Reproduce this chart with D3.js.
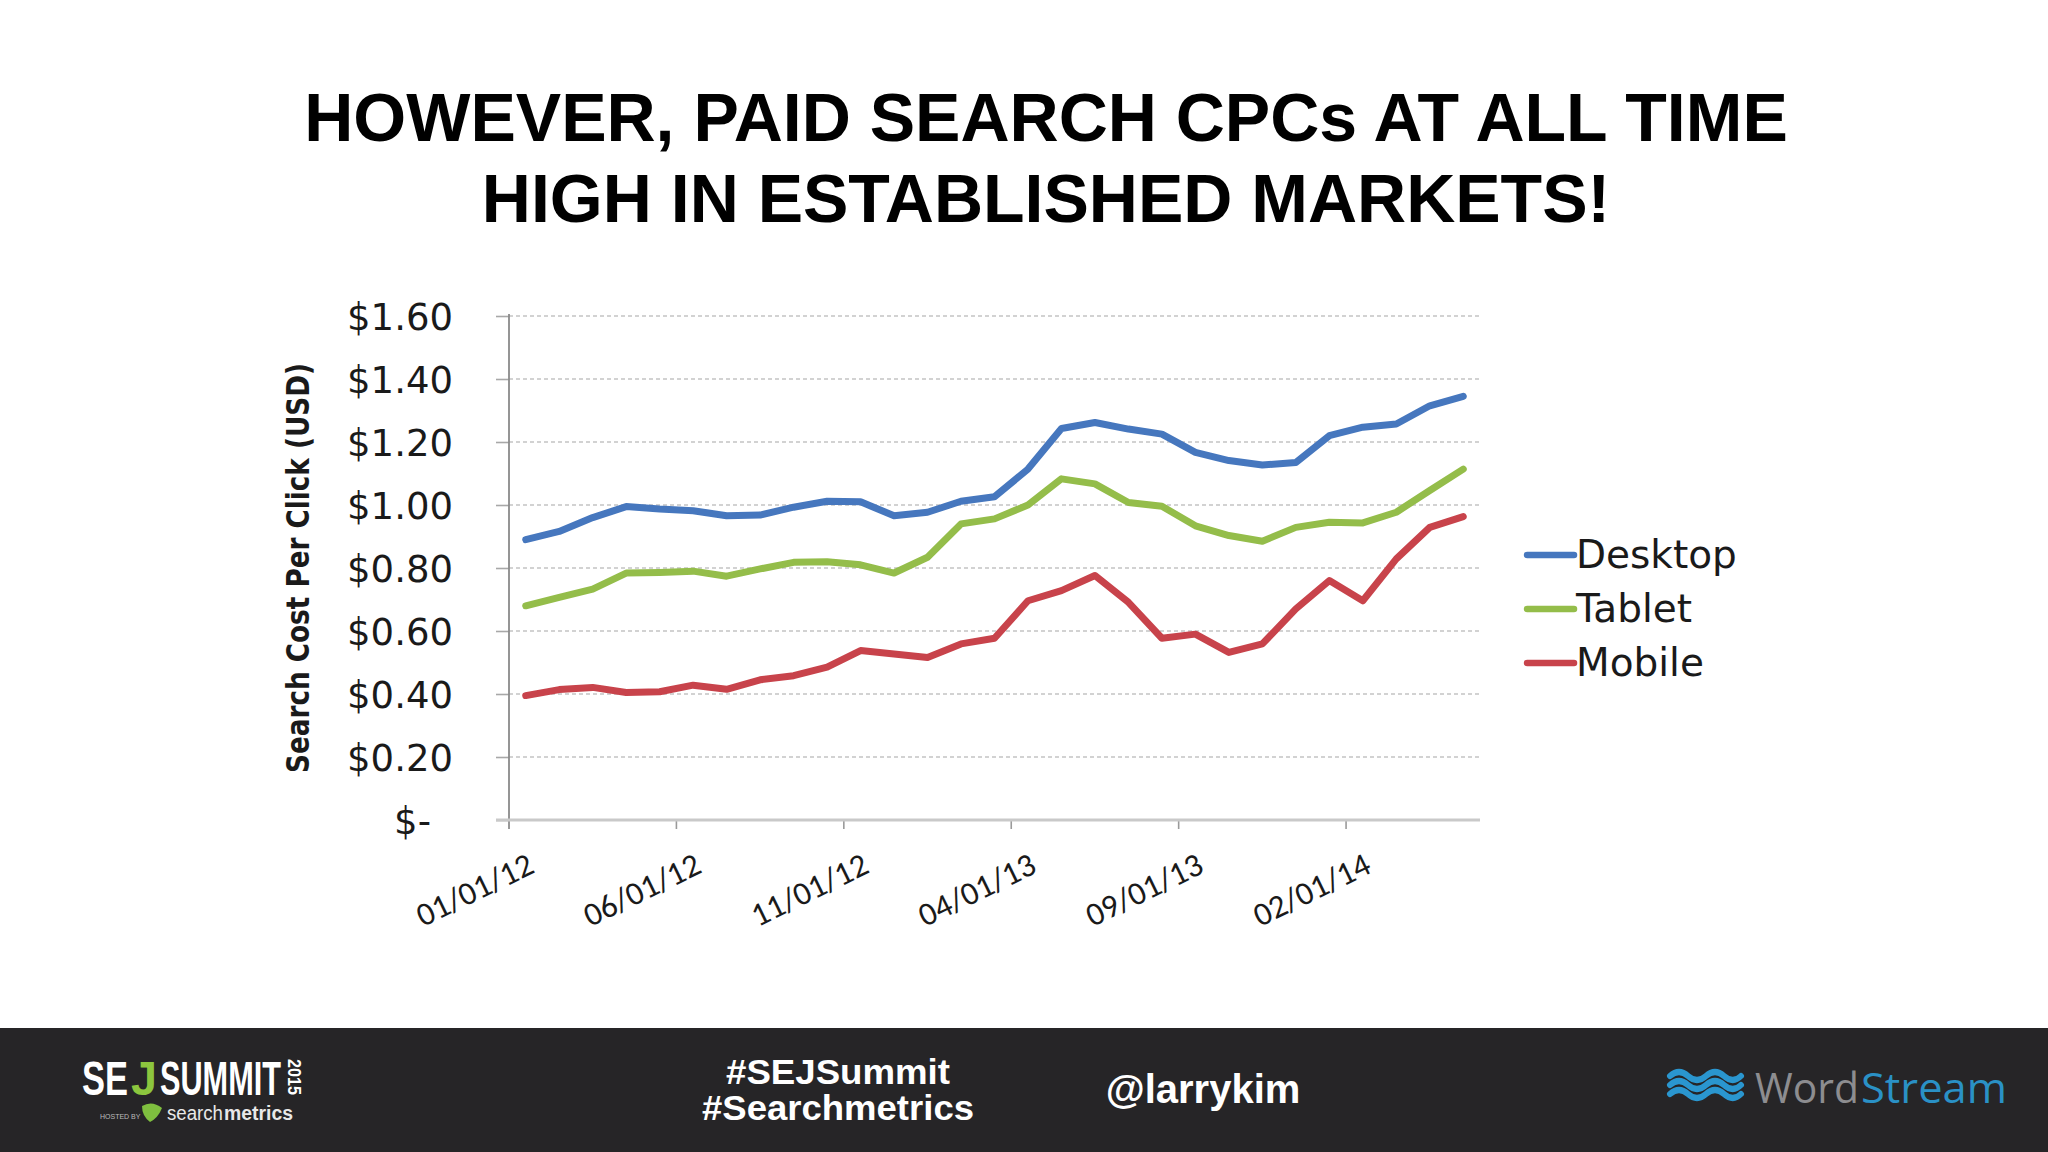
<!DOCTYPE html>
<html>
<head>
<meta charset="utf-8">
<script src="https://cdn.jsdelivr.net/npm/d3@7"></script>
<style>
  html, body { margin: 0; padding: 0; background: #ffffff; }
  svg { display: block; }
</style>
</head>
<body>
<svg id="chart" width="2048" height="1152"></svg>
<script>
// ---------------- DATA ----------------
const titleLines = ["HOWEVER, PAID SEARCH CPCs AT ALL TIME", "HIGH IN ESTABLISHED MARKETS!"];
const yAxisTitle = "Search Cost Per Click (USD)";
const months = [
  "01/01/12","02/01/12","03/01/12","04/01/12","05/01/12","06/01/12","07/01/12","08/01/12","09/01/12","10/01/12","11/01/12","12/01/12",
  "01/01/13","02/01/13","03/01/13","04/01/13","05/01/13","06/01/13","07/01/13","08/01/13","09/01/13","10/01/13","11/01/13","12/01/13",
  "01/01/14","02/01/14","03/01/14","04/01/14","05/01/14"
];
const xTickLabels = ["01/01/12","06/01/12","11/01/12","04/01/13","09/01/13","02/01/14"];
const yTickValues = [0, 0.2, 0.4, 0.6, 0.8, 1.0, 1.2, 1.4, 1.6];
const yTickLabels = ["$-", "$0.20", "$0.40", "$0.60", "$0.80", "$1.00", "$1.20", "$1.40", "$1.60"];
const seriesNames = ["Desktop", "Tablet", "Mobile"];
const desktop = [0.89, 0.916, 0.96, 0.995, 0.987, 0.982, 0.966, 0.968, 0.993, 1.012, 1.01, 0.966, 0.977, 1.012, 1.026,
                 1.114, 1.243, 1.262, 1.241, 1.225, 1.167, 1.141, 1.127, 1.135, 1.22, 1.247, 1.257, 1.315, 1.345];
const tablet  = [0.68, 0.707, 0.733, 0.784, 0.786, 0.79, 0.774, 0.797, 0.818, 0.82, 0.81, 0.784, 0.834, 0.94, 0.956,
                 1.0, 1.083, 1.067, 1.008, 0.996, 0.934, 0.903, 0.885, 0.929, 0.945, 0.943, 0.977, 1.046, 1.114];
const mobile  = [0.395, 0.414, 0.421, 0.405, 0.407, 0.428, 0.415, 0.445, 0.458, 0.485, 0.538, 0.527, 0.516, 0.559, 0.577,
                 0.696, 0.728, 0.776, 0.691, 0.577, 0.59, 0.532, 0.559, 0.67, 0.76, 0.696, 0.829, 0.929, 0.963];
const seriesColors = ["#4677BE", "#94BD4A", "#C8434B"];
const footerTags = ["#SEJSummit", "#Searchmetrics"];
const footerHandle = "@larrykim";

// ---------------- DRAW ----------------
const svg = d3.select("#chart");
svg.append("rect").attr("width", 2048).attr("height", 1152).attr("fill", "#ffffff");

// Title
const title = svg.append("text")
  .attr("text-anchor", "middle")
  .attr("font-family", "'Liberation Sans', Arial, sans-serif")
  .attr("font-weight", "bold")
  .attr("font-size", 68)
  .attr("fill", "#000");
titleLines.forEach((t, i) => {
  title.append("tspan").attr("x", 1046).attr("y", 141 + i * 81).text(t);
});

// Scales
const plot = { left: 509, right: 1480, top: 316, bottom: 820 };
const x = d3.scaleBand().domain(months).range([plot.left, plot.right]).padding(0);
const y = d3.scaleLinear().domain([0, 1.6]).range([plot.bottom, plot.top]);
const cx = d => x(d) + x.bandwidth() / 2;

// Gridlines
const grid = svg.append("g");
grid.selectAll("line.grid")
  .data(yTickValues.filter(v => v > 0))
  .join("line")
  .attr("x1", plot.left).attr("x2", plot.right)
  .attr("y1", d => y(d)).attr("y2", d => y(d))
  .attr("stroke", "#c4c4c4").attr("stroke-width", 1.6)
  .attr("stroke-dasharray", "4,3");

// Y axis
const yAxis = d3.axisLeft(y)
  .tickValues(yTickValues)
  .tickSize(13)
  .tickFormat((d, i) => yTickLabels[i]);
const yg = svg.append("g").attr("transform", `translate(${plot.left},0)`).call(yAxis);
yg.select(".domain").remove();
yg.selectAll(".tick line").attr("stroke", "#a8a8a8").attr("stroke-width", 1.6);
yg.selectAll(".tick text")
  .attr("font-family", "'DejaVu Sans', Verdana, sans-serif")
  .attr("font-size", 37)
  .attr("fill", "#1a1a1a")
  .attr("x", (d) => d === 0 ? -78 : -56)
  .attr("dy", "0.36em");
svg.append("line")
  .attr("x1", plot.left).attr("x2", plot.left)
  .attr("y1", plot.top - 2).attr("y2", plot.bottom + 9)
  .attr("stroke", "#8a8a8a").attr("stroke-width", 1.8);

// X axis
const xAxis = d3.axisBottom(x)
  .tickValues(xTickLabels)
  .tickSize(9)
  .tickFormat(d => d);
const xg = svg.append("g").attr("transform", `translate(0,${plot.bottom})`).call(xAxis);
xg.select(".domain").remove();
xg.selectAll(".tick").attr("transform", d => `translate(${x(d)},0)`);
xg.selectAll(".tick line").attr("stroke", "#9a9a9a").attr("stroke-width", 1.6);
xg.selectAll(".tick text")
  .attr("font-family", "Carlito, 'Liberation Sans', Arial, sans-serif")
  .attr("font-size", 33)
  .attr("fill", "#1a1a1a")
  .attr("text-anchor", "end")
  .attr("y", 0).attr("dy", 0)
  .attr("transform", "translate(27,52) rotate(-26)");
svg.append("line")
  .attr("x1", plot.left - 13).attr("x2", plot.right)
  .attr("y1", plot.bottom).attr("y2", plot.bottom)
  .attr("stroke", "#c9c9c9").attr("stroke-width", 3);

// Y axis title
svg.append("text")
  .attr("transform", "translate(309,568) rotate(-90)")
  .attr("text-anchor", "middle")
  .attr("font-family", "'DejaVu Sans Condensed', 'DejaVu Sans', sans-serif")
  .attr("font-weight", "bold")
  .attr("font-size", 32)
  .attr("textLength", 410)
  .attr("lengthAdjust", "spacingAndGlyphs")
  .attr("fill", "#1a1a1a")
  .text(yAxisTitle);

// Lines
const seriesData = [desktop, tablet, mobile];
const line = d3.line()
  .x((d, i) => cx(months[i]))
  .y(d => y(d));
svg.append("g").selectAll("path.series")
  .data(seriesData)
  .join("path")
  .attr("d", d => line(d))
  .attr("fill", "none")
  .attr("stroke", (d, i) => seriesColors[i])
  .attr("stroke-width", 7)
  .attr("stroke-linejoin", "round")
  .attr("stroke-linecap", "round");

// Legend
const legend = svg.append("g");
const lg = legend.selectAll("g").data(seriesNames).join("g")
  .attr("transform", (d, i) => `translate(1527,${555 + i * 54})`);
lg.append("line")
  .attr("x1", 0).attr("x2", 47).attr("y1", 0).attr("y2", 0)
  .attr("stroke", (d, i) => seriesColors[i])
  .attr("stroke-width", 6.5).attr("stroke-linecap", "round");
lg.append("text")
  .attr("x", 49).attr("y", 13)
  .attr("font-family", "'DejaVu Sans', Verdana, sans-serif")
  .attr("font-size", 39)
  .attr("fill", "#1a1a1a")
  .text(d => d);

// ---------------- FOOTER ----------------
svg.append("rect").attr("x", 0).attr("y", 1028).attr("width", 2048).attr("height", 124).attr("fill", "#262527");

footerTags.forEach((t, i) => {
  svg.append("text")
    .attr("x", 838).attr("y", 1084 + i * 36)
    .attr("text-anchor", "middle")
    .attr("font-family", "'Liberation Sans', Arial, sans-serif")
    .attr("font-weight", "bold")
    .attr("font-size", 35)
    .attr("textLength", i === 0 ? 224 : 272)
    .attr("lengthAdjust", "spacingAndGlyphs")
    .attr("fill", "#ffffff")
    .text(t);
});

svg.append("text")
  .attr("x", 1203).attr("y", 1103)
  .attr("text-anchor", "middle")
  .attr("font-family", "'Liberation Sans', Arial, sans-serif")
  .attr("font-weight", "bold")
  .attr("font-size", 40)
  .attr("fill", "#ffffff")
  .text(footerHandle);

// SEJ Summit logo: each part squeezed horizontally with a transform
const sejParts = [
  { t: "SE", x: 82, len: 46, fill: "#ffffff" },
  { t: "J", x: 131, len: 26, fill: "#8cc63e" },
  { t: "SUMMIT", x: 160, len: 121, fill: "#ffffff" }
];
sejParts.forEach(p => {
  const g = svg.append("g");
  const t = g.append("text")
    .attr("x", 0).attr("y", 0)
    .attr("font-family", "'Liberation Sans', Arial, sans-serif")
    .attr("font-weight", "bold")
    .attr("font-size", 48)
    .attr("fill", p.fill)
    .text(p.t);
  const w = t.node().getComputedTextLength();
  g.attr("transform", `translate(${p.x},1095) scale(${p.len / w},1)`);
});
svg.append("text")
  .attr("transform", "translate(288,1059) rotate(90)")
  .attr("font-family", "'Liberation Sans', Arial, sans-serif")
  .attr("font-weight", "bold")
  .attr("font-size", 18)
  .attr("textLength", 36)
  .attr("lengthAdjust", "spacingAndGlyphs")
  .attr("fill", "#ffffff")
  .text("2015");
svg.append("text")
  .attr("x", 100).attr("y", 1119)
  .attr("font-family", "'Liberation Sans', Arial, sans-serif")
  .attr("font-size", 7).attr("fill", "#bbbbbb")
  .text("HOSTED BY");
svg.append("path")
  .attr("d", "M142,1106 q10,-6 20,2 q-4,10 -12,14 q-8,-6 -8,-16 z")
  .attr("fill", "#7fbf3f");
svg.append("text")
  .attr("x", 167).attr("y", 1120)
  .attr("font-family", "'Liberation Sans', Arial, sans-serif")
  .attr("font-size", 20)
  .attr("textLength", 56)
  .attr("lengthAdjust", "spacingAndGlyphs")
  .attr("fill", "#e8e8e8")
  .text("search");
svg.append("text")
  .attr("x", 224).attr("y", 1120)
  .attr("font-family", "'Liberation Sans', Arial, sans-serif")
  .attr("font-size", 20)
  .attr("font-weight", "bold")
  .attr("textLength", 69)
  .attr("lengthAdjust", "spacingAndGlyphs")
  .attr("fill", "#e8e8e8")
  .text("metrics");

// WordStream logo
const wave = svg.append("g").attr("fill", "none").attr("stroke", "#2a96cf").attr("stroke-width", 6).attr("stroke-linecap", "round");
[0, 1, 2].forEach(k => {
  wave.append("path")
    .attr("d", `M1670,${1076 + k * 9} q9,-8 18,0 t18,0 t18,0 t17,0`);
});
svg.append("text")
  .attr("x", 1755).attr("y", 1103)
  .attr("font-family", "'Open Sans', 'DejaVu Sans', sans-serif")
  .attr("font-size", 42)
  .attr("textLength", 104)
  .attr("lengthAdjust", "spacingAndGlyphs")
  .attr("fill", "#8d8d90")
  .text("Word");
svg.append("text")
  .attr("x", 1861).attr("y", 1103)
  .attr("font-family", "'Open Sans', 'DejaVu Sans', sans-serif")
  .attr("font-size", 42)
  .attr("textLength", 146)
  .attr("lengthAdjust", "spacingAndGlyphs")
  .attr("fill", "#2a91c6")
  .text("Stream");
</script>
</body>
</html>
